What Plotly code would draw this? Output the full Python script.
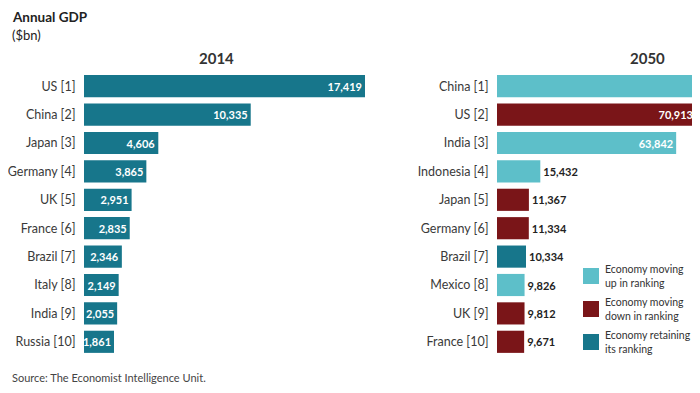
import plotly.graph_objects as go

# ---------------- data ----------------
countries_2014 = ["US [1]", "China [2]", "Japan [3]", "Germany [4]", "UK [5]",
                  "France [6]", "Brazil [7]", "Italy [8]", "India [9]", "Russia [10]"]
gdp_2014 = [17419, 10335, 4606, 3865, 2951, 2835, 2346, 2149, 2055, 1861]

countries_2050 = ["China [1]", "US [2]", "India [3]", "Indonesia [4]", "Japan [5]",
                  "Germany [6]", "Brazil [7]", "Mexico [8]", "UK [9]", "France [10]"]
gdp_2050 = [105916, 70913, 63842, 15432, 11367, 11334, 10334, 9826, 9812, 9671]
status_2050 = ["up", "down", "up", "up", "down", "down", "same", "up", "down", "down"]

legend_order = ["up", "down", "same"]
legend_labels = {"up": "Economy moving<br>up in ranking",
                 "down": "Economy moving<br>down in ranking",
                 "same": "Economy retaining<br>its ranking"}

title_text = "Annual GDP"
unit_text = "($bn)"
source_text = "Source: The Economist Intelligence Unit."

# ---------------- style ----------------
# the page has an 8px body margin, so the figure is drawn 8px in from the window edge
OFF = 8
W, H = 700 - OFF, 393 - OFF


def px(xs):  # window x -> paper x
    return (xs - OFF) / W


def py(ys):  # window y -> paper y
    return 1 - (ys - OFF) / H


DARK_TEAL = "#17768b"
LIGHT_TEAL = "#5dbfc9"
DARK_RED = "#7a1518"
status_color = {"up": LIGHT_TEAL, "down": DARK_RED, "same": DARK_TEAL}
FONT = "Lato"
TXT = "#3a3a3a"

left_x0, left_x1, left_end = 84, 365, 480   # window px: bar start, longest bar end, axis end
right_x0, right_x1 = 497, 700               # window px of the 2050 plot area
left_max = max(gdp_2014) * (left_end - left_x0) / (left_x1 - left_x0)
right_max = gdp_2050[1] * (right_x1 - right_x0) / (696 - right_x0)


def fmt(v):
    return f"{v:,}"


fig = go.Figure()

fig.add_trace(go.Bar(
    x=gdp_2014, y=countries_2014, orientation="h",
    marker=dict(color=DARK_TEAL, line=dict(width=0)),
    text=[fmt(v) for v in gdp_2014],
    textposition="inside", insidetextanchor="end", constraintext="none",
    textfont=dict(family=FONT, size=11, color="white", weight="bold"),
    xaxis="x", yaxis="y", showlegend=False, cliponaxis=True,
    hoverinfo="x+y",
))

pos_2050 = ["inside" if v > 30000 else "outside" for v in gdp_2050]
col_2050 = ["white" if p == "inside" else "#222222" for p in pos_2050]
txt_2050 = [fmt(v) if v <= right_max else "" for v in gdp_2050]
fig.add_trace(go.Bar(
    x=gdp_2050, y=countries_2050, orientation="h",
    marker=dict(color=[status_color[s] for s in status_2050], line=dict(width=0)),
    text=txt_2050,
    textposition=pos_2050, insidetextanchor="end", constraintext="none",
    textfont=dict(family=FONT, size=11, color=col_2050, weight="bold"),
    xaxis="x2", yaxis="y2", showlegend=False, cliponaxis=True,
    hoverinfo="x+y",
))

y_dom = [py(356), py(72)]
common_y = dict(autorange="reversed", showgrid=False, zeroline=False, showline=False,
                ticks="outside", ticklen=5, tickcolor="rgba(0,0,0,0)",
                tickfont=dict(family=FONT, size=12.5, color=TXT), automargin=False)
common_x = dict(visible=False, showgrid=False, zeroline=False, automargin=False, fixedrange=True)

fig.update_layout(
    width=W, height=H, margin=dict(l=0, r=0, t=0, b=0),
    paper_bgcolor="white", plot_bgcolor="white", template="none",
    barmode="overlay", bargap=0.22,
    xaxis=dict(domain=[px(left_x0), px(left_end)], range=[0, left_max], **common_x),
    yaxis=dict(domain=y_dom, anchor="x", **common_y),
    xaxis2=dict(domain=[px(right_x0), 1.0], range=[0, right_max], anchor="y2", **common_x),
    yaxis2=dict(domain=y_dom, anchor="x2", **common_y),
    font=dict(family=FONT, color=TXT),
)

ann = []
ann.append(dict(text=f"<b>{title_text}</b>", x=px(10), y=py(17), xref="paper", yref="paper",
                xanchor="left", yanchor="middle", showarrow=False,
                font=dict(family=FONT, size=13.5, color="#222")))
ann.append(dict(text=unit_text, x=px(10), y=py(35), xref="paper", yref="paper",
                xanchor="left", yanchor="middle", showarrow=False,
                font=dict(family=FONT, size=13, color="#222")))
ann.append(dict(text="<b>2014</b>", x=px(216), y=py(58), xref="paper", yref="paper",
                xanchor="center", yanchor="middle", showarrow=False,
                font=dict(family=FONT, size=15, color="#333")))
ann.append(dict(text="<b>2050</b>", x=px(647), y=py(58), xref="paper", yref="paper",
                xanchor="center", yanchor="middle", showarrow=False,
                font=dict(family=FONT, size=15, color="#333")))
ann.append(dict(text=source_text, x=px(10), y=py(377), xref="paper", yref="paper",
                xanchor="left", yanchor="middle", showarrow=False,
                font=dict(family=FONT, size=11, color="#444")))

shapes = []
leg_y = [276, 309, 342]
for key, yc in zip(legend_order, leg_y):
    shapes.append(dict(type="rect", xref="paper", yref="paper",
                       x0=px(583), x1=px(599), y0=py(yc + 8), y1=py(yc - 8),
                       fillcolor=status_color[key], line=dict(width=0)))
    ann.append(dict(text=legend_labels[key], x=px(603), y=py(yc), xref="paper", yref="paper",
                    xanchor="left", yanchor="middle", align="left", showarrow=False,
                    font=dict(family=FONT, size=10.5, color="#333")))

fig.update_layout(annotations=ann, shapes=shapes)

fig.write_html("out.html")
